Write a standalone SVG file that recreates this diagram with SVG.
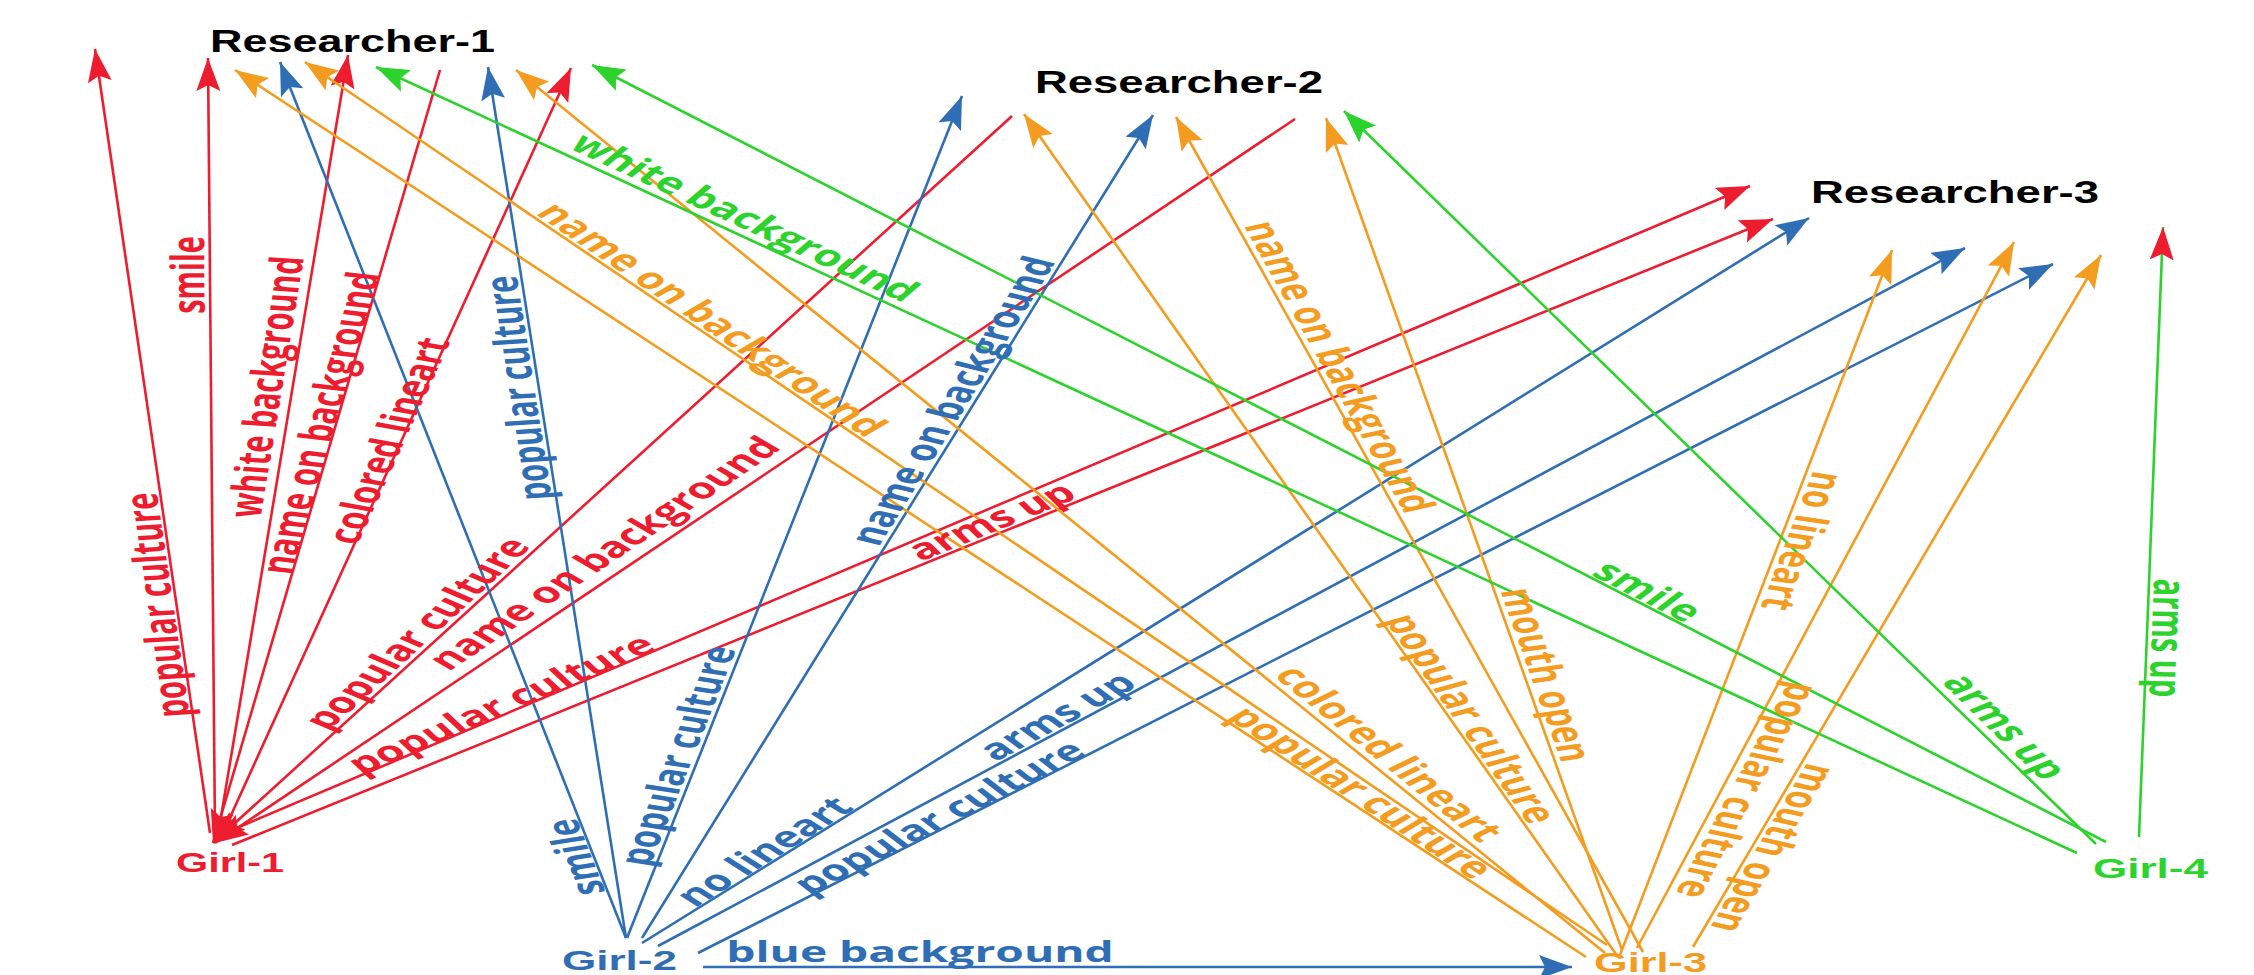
<svg xmlns="http://www.w3.org/2000/svg" width="2254" height="975" viewBox="0 0 2254 975">
<style>
.c{fill:none;stroke-width:2.6}
.r{stroke:#ED1C2E}.b{stroke:#2F6EB4}.o{stroke:#F39C1F}.g{stroke:#2DD32D}
.lbl{font-family:"Open Sans","DejaVu Sans",sans-serif;font-weight:700;font-size:29px;text-anchor:middle}
.ttl{font-family:"Liberation Sans",Arial,sans-serif;font-weight:700;font-size:31px;fill:#000}
.gl{font-family:"Liberation Sans",Arial,sans-serif;font-weight:700;font-size:28px}
.tr{fill:#ED1C2E}.tb{fill:#2F6EB4}.to{fill:#F39C1F}.tg{fill:#2DD32D}
</style>
<defs>
<marker id="mr" markerUnits="userSpaceOnUse" markerWidth="36" markerHeight="26" refX="33" refY="12" orient="auto"><path d="M33,12 L0,0 L6,12 L0,24 Z" fill="#ED1C2E"/></marker>
<marker id="mb" markerUnits="userSpaceOnUse" markerWidth="36" markerHeight="26" refX="33" refY="12" orient="auto"><path d="M33,12 L0,0 L6,12 L0,24 Z" fill="#2F6EB4"/></marker>
<marker id="mo" markerUnits="userSpaceOnUse" markerWidth="36" markerHeight="26" refX="33" refY="12" orient="auto"><path d="M33,12 L0,0 L6,12 L0,24 Z" fill="#F39C1F"/></marker>
<marker id="mg" markerUnits="userSpaceOnUse" markerWidth="36" markerHeight="26" refX="33" refY="12" orient="auto"><path d="M33,12 L0,0 L6,12 L0,24 Z" fill="#2DD32D"/></marker>
</defs>
<g id="connectors">
<path class="c r" d="M210,833 L95,49" marker-end="url(#mr)"/>
<path class="c r" d="M215,835 L208,58" marker-end="url(#mr)"/>
<path class="c r" d="M218,835 L348,55" marker-end="url(#mr)"/>
<path class="c r" d="M440,70 L213,843" marker-end="url(#mr)"/>
<path class="c r" d="M222,835 L571,68" marker-end="url(#mr)"/>
<path class="c r" d="M1012,116 L213,843" marker-end="url(#mr)"/>
<path class="c r" d="M1295,119 L215,843" marker-end="url(#mr)"/>
<path class="c r" d="M225,833 L1750,186" marker-end="url(#mr)"/>
<path class="c r" d="M232,845 L1773,219" marker-end="url(#mr)"/>
<path class="c b" d="M626,938 L280,62" marker-end="url(#mb)"/>
<path class="c b" d="M626,938 L488,67" marker-end="url(#mb)"/>
<path class="c b" d="M627,938 L962,96" marker-end="url(#mb)"/>
<path class="c b" d="M642,938 L1153,115" marker-end="url(#mb)"/>
<path class="c b" d="M642,943 L1809,218" marker-end="url(#mb)"/>
<path class="c b" d="M658,946 L1965,248" marker-end="url(#mb)"/>
<path class="c b" d="M698,953 L2053,264" marker-end="url(#mb)"/>
<path class="c b" d="M703,967 L1572,967" stroke-width="3" marker-end="url(#mb)"/>
<path class="c o" d="M1586,957 L235,70" marker-end="url(#mo)"/>
<path class="c o" d="M1607,945 L305,62" marker-end="url(#mo)"/>
<path class="c o" d="M1605,953 L516,70" marker-end="url(#mo)"/>
<path class="c o" d="M1618,957 L1024,114" marker-end="url(#mo)"/>
<path class="c o" d="M1643,952 L1176,117" marker-end="url(#mo)"/>
<path class="c o" d="M1622,950 L1326,118" marker-end="url(#mo)"/>
<path class="c o" d="M1620,955 L1892,250" marker-end="url(#mo)"/>
<path class="c o" d="M1637,948 L2014,242" marker-end="url(#mo)"/>
<path class="c o" d="M1693,947 L2101,255" marker-end="url(#mo)"/>
<path class="c g" d="M2077,853 L376,67" marker-end="url(#mg)"/>
<path class="c g" d="M2106,842 L592,65" marker-end="url(#mg)"/>
<path class="c g" d="M2096,844 L1344,111" marker-end="url(#mg)"/>
<path class="c g" d="M2139,837 L2163,227" marker-end="url(#mr)"/>
</g>
<g id="edge-labels" class="lbl">
<text class="tr" y="9" transform="translate(159 605) scale(1.59 1) rotate(-95.3)">popular culture</text>
<text class="tr" y="9" transform="translate(190 275) scale(1.59 1) rotate(-90.3)">smile</text>
<text class="tr" y="9" transform="translate(268 387) scale(1.59 1) rotate(-84)">white background</text>
<text class="tr" y="9" transform="translate(322 423) scale(1.59 1) rotate(-79.5)">name on background</text>
<text class="tr" y="9" transform="translate(390 441) scale(1.59 1) rotate(-74)">colored lineart</text>
<text class="tr" y="9" transform="translate(418 634) scale(1.59 1) rotate(-55.35)">popular culture</text>
<text class="tr" y="9" transform="translate(605 554) scale(1.59 1) rotate(-46.84)">name on background</text>
<text class="tr" y="9" transform="translate(502 705) scale(1.59 1) rotate(-34)">popular culture</text>
<text class="tr" y="9" transform="translate(992 522) scale(1.59 1) rotate(-32.86)">arms up</text>
<text class="tb" y="9" transform="translate(577 857) scale(1.59 1) rotate(-103.95)">smile</text>
<text class="tb" y="9" transform="translate(520 388) scale(1.59 1) rotate(-95.7)">popular culture</text>
<text class="tb" y="9" transform="translate(679 756) scale(1.59 1) rotate(-75.95)">popular culture</text>
<text class="tb" y="9" transform="translate(954 401) scale(1.59 1) rotate(-68.67)">name on background</text>
<text class="tb" y="9" transform="translate(765 852) scale(1.59 1) rotate(-44.65)">no lineart</text>
<text class="tb" y="9" transform="translate(1058 717) scale(1.59 1) rotate(-40.33)">arms up</text>
<text class="tb" y="9" transform="translate(940 818) scale(1.59 1) rotate(-38.96)">popular culture</text>
<text class="tb" y="9" transform="translate(920 953) scale(1.59 1)">blue background</text>
<text class="to" y="9" transform="translate(1360 793) scale(1.59 1) rotate(46.23)">popular culture</text>
<text class="to" y="9" transform="translate(711 320) scale(1.59 1) rotate(47.16)">name on background</text>
<text class="to" y="9" transform="translate(1388 754) scale(1.59 1) rotate(52.2)">colored lineart</text>
<text class="to" y="9" transform="translate(1470 719) scale(1.59 1) rotate(66.1)">popular culture</text>
<text class="to" y="9" transform="translate(1338 367) scale(1.59 1) rotate(70.6)">name on background</text>
<text class="to" y="9" transform="translate(1545 675) scale(1.59 1) rotate(77.4)">mouth open</text>
<text class="to" y="9" transform="translate(1801 541) scale(1.59 1) rotate(103.6)">no lineart</text>
<text class="to" y="9" transform="translate(1746 790) scale(1.59 1) rotate(108.56)">popular culture</text>
<text class="to" y="9" transform="translate(1772 848) scale(1.59 1) rotate(110.34)">mouth open</text>
<text class="tg" y="9" transform="translate(744 218) scale(1.59 1) rotate(36.3)">white background</text>
<text class="tg" y="9" transform="translate(1647 592) scale(1.59 1) rotate(39.21)">smile</text>
<text class="tg" y="9" transform="translate(2004 727) scale(1.59 1) rotate(57.17)">arms up</text>
<text class="tg" y="9" transform="translate(2166 638) scale(1.59 1) rotate(91.4)">arms up</text>
</g>
<g id="Researcher-1"><text class="ttl" x="210" y="52" textLength="285" lengthAdjust="spacingAndGlyphs">Researcher-1</text></g>
<g id="Researcher-2"><text class="ttl" x="1035" y="93" textLength="288" lengthAdjust="spacingAndGlyphs">Researcher-2</text></g>
<g id="Researcher-3"><text class="ttl" x="1811" y="203" textLength="288" lengthAdjust="spacingAndGlyphs">Researcher-3</text></g>
<g id="Girl-1"><text class="gl tr" x="176" y="872" textLength="108" lengthAdjust="spacingAndGlyphs">Girl-1</text></g>
<g id="Girl-2"><text class="gl tb" x="562" y="970" textLength="115" lengthAdjust="spacingAndGlyphs">Girl-2</text></g>
<g id="Girl-3"><text class="gl to" x="1594" y="972" textLength="113" lengthAdjust="spacingAndGlyphs">Girl-3</text></g>
<g id="Girl-4"><text class="gl tg" x="2093" y="878" textLength="115" lengthAdjust="spacingAndGlyphs">Girl-4</text></g>
</svg>
